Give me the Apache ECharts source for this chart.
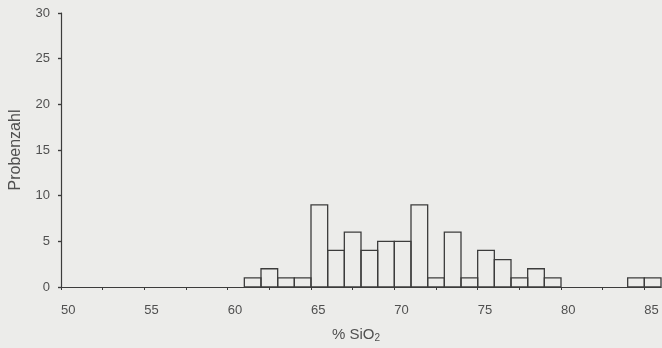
<!DOCTYPE html>
<html>
<head>
<meta charset="utf-8">
<script src="https://cdn.jsdelivr.net/npm/echarts@6/dist/echarts.min.js"></script>
<style>
  html, body { margin: 0; padding: 0; background: #ececea; }
  #chart { width: 662px; height: 348px; }
</style>
</head>
<body>
<div id="chart"></div>
<script>
// Histogram of SiO2 content: 1 %-wide classes, lower bin edges and counts
const binStarts = [61, 62, 63, 64, 65, 66, 67, 68, 69, 70, 71, 72, 73, 74, 75, 76, 77, 78, 79, 84, 85];
const counts    = [ 1,  2,  1,  1,  9,  4,  6,  4,  5,  5,  9,  1,  6,  1,  4,  3,  1,  2,  1,  1,  1];
const binWidth = 1;

const xTickLabels = [50, 55, 60, 65, 70, 75, 80, 85];
const yTickLabels = [0, 5, 10, 15, 20, 25, 30];

const ink = '#3c3c3c';
const textInk = '#505050';

const data = binStarts.map((s, i) => [s, s + binWidth, counts[i]]);

const gridLeft = 58, gridRight = 1;
const chartWidth = 662;
const plotWidth = chartWidth - gridLeft - gridRight;

const chart = echarts.init(document.getElementById('chart'), null, { renderer: 'canvas' });

chart.setOption({
  backgroundColor: '#ececea',
  animation: false,
  grid: { left: gridLeft, right: gridRight, top: 13, bottom: 61, containLabel: false },
  xAxis: {
    type: 'value',
    min: 50,
    max: 86,
    interval: 2.5,
    name: '% SiO{sub|2}',
    nameLocation: 'middle',
    nameGap: 39,
    nameTextStyle: {
      fontFamily: 'Liberation Sans',
      fontSize: 15,
      color: textInk,
      padding: [0, 10, 0, 0],
      rich: {
        sub: { fontFamily: 'Liberation Sans', fontSize: 10, color: textInk, verticalAlign: 'bottom', padding: [7, 0, 0, 0] }
      }
    },
    axisLine: { show: true, onZero: false, lineStyle: { color: ink, width: 1.2 } },
    axisTick: { show: true, inside: false, length: 3, lineStyle: { color: ink, width: 1 } },
    axisLabel: {
      fontFamily: 'Liberation Sans',
      fontSize: 13,
      color: textInk,
      align: 'left',
      margin: 17,
      showMaxLabel: false,
      formatter: v => (xTickLabels.indexOf(v) >= 0 ? String(v) : '')
    },
    splitLine: { show: false }
  },
  yAxis: [
    {
      type: 'value',
      min: 0,
      max: 30,
      interval: 5,
      name: 'Probenzahl',
      nameLocation: 'middle',
      nameGap: 37,
      nameRotate: 90,
      nameTextStyle: { fontFamily: 'Liberation Sans', fontSize: 16, color: textInk },
      axisLine: { show: true, lineStyle: { color: ink, width: 1.2 } },
      axisTick: { show: true, inside: false, length: 3, lineStyle: { color: ink, width: 1.2 } },
      axisLabel: {
        fontFamily: 'Liberation Sans',
        fontSize: 13,
        color: textInk,
        margin: 11,
        formatter: v => (yTickLabels.indexOf(v) >= 0 ? String(v) : '')
      },
      splitLine: { show: false }
    },
    {
      // inner half of the cross ticks on the count axis, shifted onto the left edge
      type: 'value',
      position: 'right',
      offset: -plotWidth,
      min: 0,
      max: 30,
      interval: 5,
      axisLine: { show: false },
      axisTick: { show: true, inside: false, length: 4, lineStyle: { color: ink, width: 1.2 } },
      axisLabel: { show: false },
      splitLine: { show: false }
    }
  ],
  series: [
    {
      type: 'custom',
      xAxisIndex: 0,
      yAxisIndex: 0,
      data: data,
      encode: { x: [0, 1], y: 2 },
      renderItem: function (params, api) {
        const p0 = api.coord([api.value(0), 0]);
        const p1 = api.coord([api.value(1), api.value(2)]);
        return {
          type: 'rect',
          shape: { x: p0[0], y: p1[1], width: p1[0] - p0[0], height: p0[1] - p1[1] },
          style: { fill: 'rgba(255,255,255,0)', stroke: ink, lineWidth: 1.3 }
        };
      }
    }
  ]
});
</script>
</body>
</html>
